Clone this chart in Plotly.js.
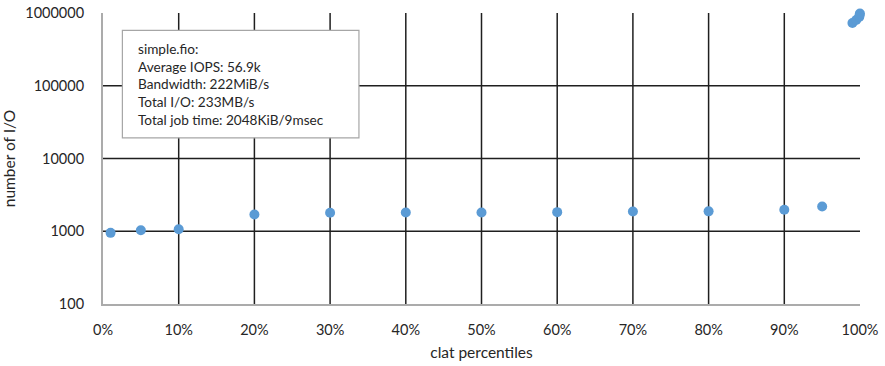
<!DOCTYPE html>
<html>
<head>
<meta charset="utf-8">
<script src="https://cdn.plot.ly/plotly-3.0.1.min.js"></script>
<style>
  html, body { margin: 0; padding: 0; background: #fff; }
  #chart { width: 885px; height: 366px; }
  /* smooth (anti-aliased) grid so every line keeps the same weight */
  #chart .gridlayer path { shape-rendering: auto !important; }
</style>
</head>
<body>
<div id="chart"></div>
<script>
// fio completion-latency percentiles (x, in %) and the I/O count at each
const percentiles = [1, 5, 10, 20, 30, 40, 50, 60, 70, 80, 90, 95, 99, 99.5, 99.9, 99.95, 99.99];
const ioCounts = [950, 1032, 1065, 1698, 1792, 1810, 1810, 1830, 1867, 1877, 1972, 2188,
                  730000, 800000, 880000, 940000, 985000];

const yTickVals = [100, 1000, 10000, 100000, 1000000];
const yTickText = ['100', '1000', '10000', '100000', '1000000'];

const summaryLines = [
  'simple.fio:',
  'Average IOPS: 56.9k',
  'Bandwidth: 222MiB/s',
  'Total I/O: 233MB/s',
  'Total job time: 2048KiB/9msec'
];

const FONT = 'Lato, "Open Sans", sans-serif';
const GRID = '#1f1f1f';
const AXIS = '#ababab';

const trace = {
  type: 'scatter',
  mode: 'markers',
  x: percentiles,
  y: ioCounts,
  marker: { color: '#5b9bd5', size: 10, line: { width: 0 } },
  hoverinfo: 'x+y',
  cliponaxis: false
};

const layout = {
  width: 885,
  height: 366,
  margin: { l: 103, r: 25, t: 13, b: 62 },
  paper_bgcolor: '#fff',
  plot_bgcolor: '#fff',
  showlegend: false,
  font: { family: FONT, size: 14, color: '#262626' },
  xaxis: {
    range: [0, 100],
    dtick: 10,
    tick0: 0,
    ticksuffix: '%',
    showgrid: true,
    gridcolor: GRID,
    gridwidth: 1.5,
    showline: true,
    linecolor: AXIS,
    linewidth: 2,
    zeroline: false,
    ticks: '',
    ticklabelstandoff: 12,
    tickfont: { family: FONT, size: 14.5, color: '#262626' },
    title: { text: 'clat percentiles', font: { family: FONT, size: 15.5, color: '#262626' }, standoff: 10 },
    fixedrange: true
  },
  yaxis: {
    type: 'log',
    range: [2, 6],
    tickvals: yTickVals,
    ticktext: yTickText,
    showgrid: true,
    gridcolor: GRID,
    gridwidth: 1.5,
    showline: true,
    linecolor: AXIS,
    linewidth: 2,
    zeroline: false,
    ticks: '',
    ticklabelstandoff: 14,
    tickfont: { family: FONT, size: 14.5, color: '#262626' },
    title: { text: 'number of I/O', font: { family: FONT, size: 15.5, color: '#262626' }, standoff: 10 },
    fixedrange: true
  },
  shapes: [
    {
      type: 'rect', xref: 'paper', yref: 'paper',
      x0: 0.0256, x1: 0.3381, y0: 0.571, y1: 0.940,
      line: { color: '#a6a6a6', width: 1.2 },
      fillcolor: '#fff',
      layer: 'above'
    }
  ],
  annotations: [
    {
      xref: 'paper', yref: 'paper',
      x: 0.0435, y: 0.912,
      xanchor: 'left', yanchor: 'top',
      align: 'left',
      showarrow: false,
      text: summaryLines.join('<br>'),
      font: { family: FONT, size: 13.6, color: '#262626' }
    }
  ]
};

Plotly.newPlot('chart', [trace], layout, { displayModeBar: false, staticPlot: true });
</script>
</body>
</html>
